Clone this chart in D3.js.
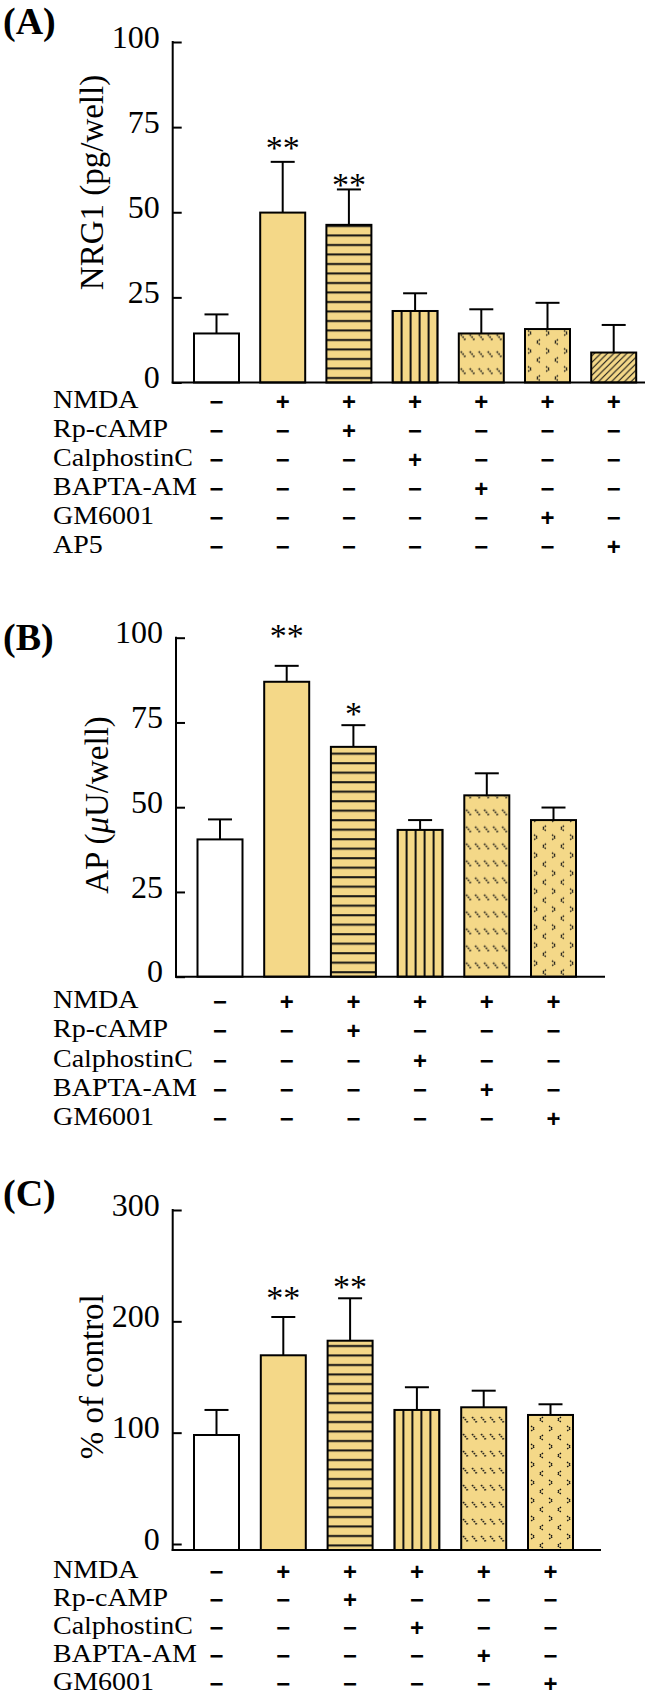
<!DOCTYPE html>
<html>
<head>
<meta charset="utf-8">
<script src="https://cdn.jsdelivr.net/npm/d3@7"></script>
<style>
  body { margin: 0; background: #fff; }
  svg { display: block; }
  .serif { font-family: "Liberation Serif", "Times New Roman", serif; }
  .sans { font-family: "Liberation Sans", Arial, sans-serif; }
</style>
</head>
<body>
<script>
// Values (upper error = mean + SD)
const nrg1Mean = [14.4, 49.9, 46.3, 21.0, 14.4, 15.7, 8.8];
const nrg1Upper = [20.0, 64.8, 56.7, 26.2, 21.5, 23.4, 16.9];
const nrg1Stars = ["", "**", "**", "", "", "", ""];
const nrg1StarLevel = [null, 70.5, 59.9, null, null, null, null];

const apMean = [40.5, 87.0, 67.8, 43.3, 53.5, 46.2];
const apUpper = [46.4, 91.7, 74.2, 46.2, 60.0, 49.9];
const apStars = ["", "**", "*", "", "", ""];
const apStarLevel = [null, 102.3, 79.4, null, null, null];

const pctMean = [97.9, 169.5, 182.6, 120.4, 122.8, 115.9];
const pctUpper = [120.4, 203.9, 220.7, 140.8, 137.7, 125.5];
const pctStars = ["", "**", "**", "", "", ""];
const pctStarLevel = [null, 226.4, 236.2, null, null, null];

const ticksA = [0, 25, 50, 75, 100];
const ticksB = [0, 25, 50, 75, 100];
const ticksC = [0, 100, 200, 300];

const treatments = ["NMDA", "Rp-cAMP", "CalphostinC", "BAPTA-AM", "GM6001", "AP5"];
const signs = [
  ["-", "+", "+", "+", "+", "+", "+"],
  ["-", "-", "+", "-", "-", "-", "-"],
  ["-", "-", "-", "+", "-", "-", "-"],
  ["-", "-", "-", "-", "+", "-", "-"],
  ["-", "-", "-", "-", "-", "+", "-"],
  ["-", "-", "-", "-", "-", "-", "+"]
];
const fillKinds = ["white", "plain", "hlines", "vlines", "dashdiag", "chevrons", "hatch"];

const yellow = "#F4D888";

const svg = d3.select("body").append("svg")
  .attr("width", 645)
  .attr("height", 1699);
const defs = svg.append("defs");

const panels = [
  { id: "A", letterY: 34, mean: nrg1Mean, upper: nrg1Upper, stars: nrg1Stars, starLevel: nrg1StarLevel,
    max: 100, ticks: ticksA, axisX: 172.7, y0: 382.5, yTop: 42, baseY: 382.5, axisEnd: 645,
    c0: 216.5, step: 66.2, rowY: 408.3, rowStep: 28.9, nRows: 6,
    title: [{ t: "NRG1 (pg/well)" }], titleX: 103, titleY: 182.5 },
  { id: "B", letterY: 650, mean: apMean, upper: apUpper, stars: apStars, starLevel: apStarLevel,
    max: 100, ticks: ticksB, axisX: 176, y0: 976.7, yTop: 637.7, baseY: 976.7, axisEnd: 605,
    c0: 220, step: 66.7, rowY: 1008, rowStep: 29.3, nRows: 5,
    title: [{ t: "AP (" }, { t: "\u03bc", italic: true }, { t: "U/well)" }], titleX: 108, titleY: 805 },
  { id: "C", letterY: 1206, mean: pctMean, upper: pctUpper, stars: pctStars, starLevel: pctStarLevel,
    max: 300, ticks: ticksC, axisX: 172.7, y0: 1544, yTop: 1210, baseY: 1550, axisEnd: 601,
    c0: 216.5, step: 66.8, rowY: 1578, rowStep: 28, nRows: 5,
    title: [{ t: "% of control" }], titleX: 103, titleY: 1376.7 }
];

// one pattern per bar so the marks line up with each bar's edges
function makePattern(id, kind, left, base) {
  let w, h;
  if (kind === "hlines") { w = 10; h = 9.5; }
  else if (kind === "vlines") { w = 9; h = 10; }
  else if (kind === "dashdiag") { w = 9; h = 17; }
  else if (kind === "chevrons") { w = 18; h = 18; }
  else { w = 6.5; h = 6.5; }
  const pat = defs.append("pattern")
    .attr("id", id)
    .attr("patternUnits", "userSpaceOnUse")
    .attr("x", left).attr("y", base)
    .attr("width", w).attr("height", h);
  pat.append("rect").attr("width", w).attr("height", h).attr("fill", yellow);
  const g = pat.append("g").attr("stroke", "#111").attr("fill", "none");
  if (kind === "hlines") {
    g.append("line").attr("x1", 0).attr("x2", w).attr("y1", 5).attr("y2", 5).attr("stroke-width", 2);
  } else if (kind === "vlines") {
    g.append("line").attr("x1", 0).attr("x2", 0).attr("y1", 0).attr("y2", h).attr("stroke-width", 2);
    g.append("line").attr("x1", w).attr("x2", w).attr("y1", 0).attr("y2", h).attr("stroke-width", 2);
  } else if (kind === "dashdiag") {
    g.append("path").attr("d", "M2,3 L7,9").attr("stroke-width", 1.6)
      .attr("stroke-dasharray", "1.6,1.1");
  } else if (kind === "chevrons") {
    g.attr("stroke-width", 1.5).attr("stroke-dasharray", "1.5,0.8");
    g.append("path").attr("d", "M3,2 L6.5,4.5 L3,7");
    g.append("path").attr("d", "M15,11 L11.5,13.5 L15,16");
  } else {
    g.append("path").attr("d", "M0,6.5 L6.5,0 M-1,1 L1,-1 M5.5,7.5 L7.5,5.5").attr("stroke-width", 1.1);
  }
}

panels.forEach(p => {
  const n = p.mean.length;
  const y = d3.scaleLinear().domain([0, p.max]).range([p.y0, p.yTop]);
  const x = d3.scalePoint().domain(d3.range(n)).range([p.c0, p.c0 + p.step * (n - 1)]);
  const bw = 45;

  // panel letter
  svg.append("text")
    .attr("class", "serif")
    .attr("x", 3).attr("y", p.letterY)
    .attr("font-weight", "bold").attr("font-size", 38)
    .text(`(${p.id})`);

  // y axis title
  const title = svg.append("text")
    .attr("class", "serif")
    .attr("transform", `translate(${p.titleX},${p.titleY}) rotate(-90)`)
    .attr("text-anchor", "middle")
    .attr("font-size", 33);
  p.title.forEach(s => {
    title.append("tspan").attr("font-style", s.italic ? "italic" : null).text(s.t);
  });

  // bars
  const bars = svg.append("g");
  p.mean.forEach((v, i) => {
    const kind = fillKinds[i];
    const left = x(i) - bw / 2;
    let fill = yellow;
    if (kind === "white") fill = "#fff";
    else if (kind !== "plain") {
      const pid = `pat-${p.id}-${i}`;
      makePattern(pid, kind, left, p.baseY);
      fill = `url(#${pid})`;
    }
    bars.append("rect")
      .attr("x", left).attr("y", y(v))
      .attr("width", bw).attr("height", p.baseY - y(v))
      .attr("fill", fill)
      .attr("stroke", "#000").attr("stroke-width", 2);
  });

  // error bars (upper only)
  const err = svg.append("g").attr("stroke", "#000").attr("stroke-width", 2);
  p.upper.forEach((u, i) => {
    err.append("line").attr("x1", x(i)).attr("x2", x(i)).attr("y1", y(p.mean[i])).attr("y2", y(u));
    err.append("line").attr("x1", x(i) - 12).attr("x2", x(i) + 12).attr("y1", y(u)).attr("y2", y(u));
  });

  // significance stars
  p.stars.forEach((s, i) => {
    if (!s) return;
    svg.append("text")
      .attr("class", "serif")
      .attr("x", x(i)).attr("y", y(p.starLevel[i]) + 17)
      .attr("text-anchor", "middle")
      .attr("font-size", 34)
      .text(s);
  });

  // y axis, ticks pointing inward
  const ax = svg.append("g")
    .attr("transform", `translate(${p.axisX},0)`)
    .call(d3.axisLeft(y).tickValues(p.ticks).tickSizeInner(-9).tickSizeOuter(0).tickPadding(13));
  ax.attr("font-family", null).attr("font-size", null);
  ax.select(".domain").remove();
  ax.selectAll(".tick line").attr("stroke", "#000").attr("stroke-width", 2);
  ax.selectAll(".tick text")
    .attr("class", "serif")
    .attr("font-size", 32).attr("fill", "#000")
    .attr("dy", "0.16em");
  ax.append("line").attr("x1", 0).attr("x2", 0).attr("y1", p.baseY + 1).attr("y2", p.yTop - 1)
    .attr("stroke", "#000").attr("stroke-width", 2);

  // x axis baseline
  svg.append("line")
    .attr("x1", p.axisX - 1).attr("x2", p.axisEnd)
    .attr("y1", p.baseY).attr("y2", p.baseY)
    .attr("stroke", "#000").attr("stroke-width", 2);

  // treatment table
  for (let r = 0; r < p.nRows; r++) {
    const ry = p.rowY + r * p.rowStep;
    svg.append("text")
      .attr("class", "serif")
      .attr("transform", `translate(53,${ry}) scale(1.12,1)`)
      .attr("font-size", 25)
      .text(treatments[r]);
    for (let i = 0; i < n; i++) {
      svg.append("text")
        .attr("class", "sans")
        .attr("x", x(i)).attr("y", ry + 2)
        .attr("text-anchor", "middle")
        .attr("font-size", 24).attr("font-weight", "bold")
        .text(signs[r][i] === "+" ? "+" : "\u2212");
    }
  }
});
</script>
</body>
</html>
